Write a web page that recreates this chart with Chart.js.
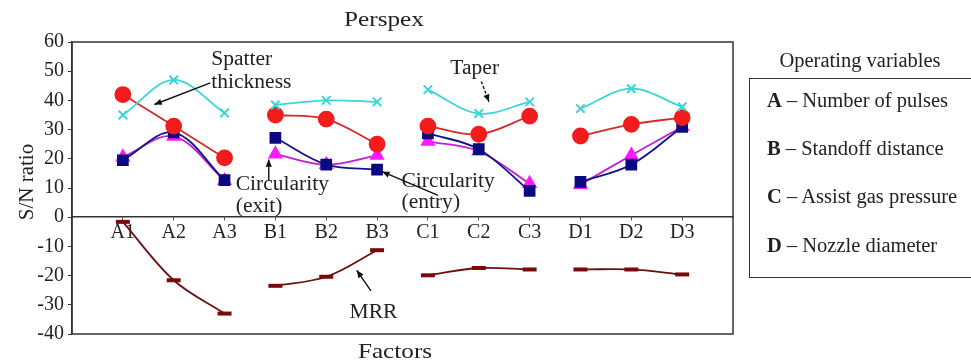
<!DOCTYPE html>
<html>
<head>
<meta charset="utf-8">
<script src="https://cdn.jsdelivr.net/npm/chart.js@4/dist/chart.umd.min.js"></script>
<style>
  html,body{margin:0;padding:0;background:#fff;}
  #wrap{position:relative;width:971px;height:364px;overflow:hidden;}
  canvas{position:absolute;left:0;top:0;}
  .side{position:absolute;font-family:"Liberation Serif","DejaVu Serif",serif;color:#222;font-size:20.5px;}
  #opTitle{left:749px;width:222px;top:49px;text-align:center;}
  #opBox{left:749px;top:78px;width:240px;height:200px;border:1.5px solid #333;box-sizing:border-box;}
  .item{position:absolute;left:767px;white-space:nowrap;}
  .item b{font-weight:bold;}
</style>
</head>
<body>
<div id="wrap">
  <canvas id="c" width="971" height="364"></canvas>
  <div class="side" id="opTitle">Operating variables</div>
  <div class="side" id="opBox"></div>
  <div class="side item" style="top:89px"><b>A</b> – Number of pulses</div>
  <div class="side item" style="top:137px"><b>B</b> – Standoff distance</div>
  <div class="side item" style="top:185px"><b>C</b> – Assist gas pressure</div>
  <div class="side item" style="top:234px"><b>D</b> – Nozzle diameter</div>
</div>
<script>
// ---- data ----
const categories = ["A1","A2","A3","B1","B2","B3","C1","C2","C3","D1","D2","D3"];
const groupSize = 3;
const taper            = [35.0, 47.0, 35.7, 38.4, 40.0, 39.5, 43.7, 35.5, 39.5, 37.2, 44.0, 37.8];
const spatterThickness = [42.0, 31.2, 20.3, 35.0, 33.6, 25.0, 31.2, 28.4, 34.6, 27.8, 31.8, 34.1];
const circularityEntry = [19.5, 29.0, 12.7, 27.2, 18.0, 16.3, 28.7, 23.3,  9.0, 12.1, 18.0, 30.9];
const circularityExit  = [20.6, 27.7, 12.5, 21.6, 18.0, 21.2, 26.0, 22.6, 11.5, 11.2, 21.2, 31.0];
const mrr              = [-1.6,-21.6,-33.0,-23.5,-20.4,-11.3,-19.9,-17.4,-17.9,-17.9,-17.9,-19.6];
const yTicks = [-40,-30,-20,-10,0,10,20,30,40,50,60];

// annotation labels (data coordinates: x = category position, y = S/N ratio)
const labels = [
  {lines:["Spatter","thickness"], x:2.74, y:53.8, dy:-7.6, align:"left", arrow:{from:[2.72,46.0], to:[1.62,38.6]}},
  {lines:["Taper"], x:7.92, y:51.0, dy:0, align:"center", arrow:{from:[8.05,46.5], to:[8.2,39.5], dashed:true}},
  {lines:["Circularity","(exit)"], x:3.22, y:11.3, dy:-7.8, align:"left", arrow:{from:[3.87,12.5], to:[3.87,19.8]}},
  {lines:["Circularity","(entry)"], x:6.48, y:12.3, dy:-7.4, align:"left", arrow:{from:[7.2,7.5], to:[6.1,15.6]}},
  {lines:["MRR"], x:5.93, y:-32.8, dy:0, align:"center", arrow:{from:[5.88,-25.2], to:[5.6,-18.2]}}
];

function toPoints(vals){
  const pts = [];
  vals.forEach((v,i)=>{
    pts.push({x:i+1, y:v});
    if ((i+1)%groupSize===0 && i<vals.length-1) pts.push({x:i+1.5, y:null});
  });
  return pts;
}

const serif = "'Liberation Serif','DejaVu Serif',serif";

function stretchText(ctx, t, x, y, sx){
  ctx.save(); ctx.translate(x,y); ctx.scale(sx,1); ctx.fillText(t,0,0); ctx.restore();
}

const overlay = {
  id:'overlay',
  afterDraw(chart){
    const {ctx, chartArea:a, scales:{x,y}} = chart;
    ctx.save();
    // plot frame
    ctx.strokeStyle='#333'; ctx.lineWidth=1.5;
    ctx.strokeRect(a.left, a.top, a.right-a.left, a.bottom-a.top);
    // titles
    ctx.fillStyle='#222';
    ctx.font = "21px "+serif;
    ctx.textAlign='center'; ctx.textBaseline='middle';
    stretchText(ctx, "Perspex", 384, 20, 1.2);
    stretchText(ctx, "Factors", 395, 352, 1.2);
    ctx.save();
    ctx.translate(27, (a.top+a.bottom)/2 - 6);
    ctx.rotate(-Math.PI/2);
    ctx.font = "21px "+serif;
    ctx.fillText("S/N ratio", 0, 0);
    ctx.restore();
    // annotations
    ctx.font = "20.5px "+serif;
    labels.forEach(l=>{
      ctx.textAlign = l.align;
      l.lines.forEach((t,k)=>{
        stretchText(ctx, t, x.getPixelForValue(l.x), y.getPixelForValue(l.y + k*l.dy), 1.05);
      });
      const fx=x.getPixelForValue(l.arrow.from[0]), fy=y.getPixelForValue(l.arrow.from[1]);
      const tx=x.getPixelForValue(l.arrow.to[0]), ty=y.getPixelForValue(l.arrow.to[1]);
      ctx.strokeStyle='#111'; ctx.lineWidth=1.4;
      ctx.setLineDash(l.arrow.dashed?[3,2]:[]);
      ctx.beginPath(); ctx.moveTo(fx,fy); ctx.lineTo(tx,ty); ctx.stroke();
      ctx.setLineDash([]);
      const ang=Math.atan2(ty-fy, tx-fx), h=8, w=0.4;
      ctx.fillStyle='#111';
      ctx.beginPath();
      ctx.moveTo(tx,ty);
      ctx.lineTo(tx-h*Math.cos(ang-w), ty-h*Math.sin(ang-w));
      ctx.lineTo(tx-h*Math.cos(ang+w), ty-h*Math.sin(ang+w));
      ctx.closePath(); ctx.fill();
      ctx.fillStyle='#222';
    });
    ctx.restore();
  }
};

const ds = (label, vals, color, line, style, r, extra) => Object.assign({
  label, data: toPoints(vals), borderColor: line, backgroundColor: color,
  pointBackgroundColor: color, pointBorderColor: color, pointStyle: style,
  pointRadius: r, borderWidth: 1.8, tension: 0.35, spanGaps: false
}, extra||{});

new Chart(document.getElementById('c'), {
  type:'line',
  data:{
    datasets:[
      ds("MRR", mrr, "#7a0a0a", "#6b1010", "line", 7, {pointBorderWidth:4}),
      ds("Taper", taper, "#3ad6d6", "#3ad6d6", "crossRot", 6, {pointBorderWidth:2}),
      ds("Spatter thickness", spatterThickness, "#f21c1c", "#d42a2a", "circle", 7.5),
      ds("Circularity (entry)", circularityEntry, "#0a0a80", "#14148a", "rect", 7),
      ds("Circularity (exit)", circularityExit, "#ff19ff", "#c020d0", "triangle", 7)
    ]
  },
  options:{
    responsive:false, animation:false,
    layout:{padding:{top:42, bottom:30, left:0, right:238}},
    plugins:{legend:{display:false}, tooltip:{enabled:false}, title:{display:false}},
    scales:{
      x:{
        type:'linear', min:0, max:13, position:{y:0},
        afterBuildTicks: s => { s.ticks = categories.map((c,i)=>({value:i+1})); },
        ticks:{ callback: v => categories[v-1] || '', color:'#222', font:{family:serif, size:20}, padding:1, maxRotation:0, autoSkip:false },
        grid:{ drawOnChartArea:false, tickLength:3, color:'#555' },
        border:{ color:'#333', width:1.5 }
      },
      y:{
        min:-40, max:60,
        afterBuildTicks: s => { s.ticks = yTicks.map(v=>({value:v})); },
        afterFit: s => { s.width = 72; },
        ticks:{ color:'#222', font:{family:serif, size:20}, padding:4 },
        grid:{ drawOnChartArea:false, tickLength:4, color:'#333' },
        border:{ color:'#333', width:1.5 }
      }
    }
  },
  plugins:[overlay]
});
</script>
</body>
</html>
